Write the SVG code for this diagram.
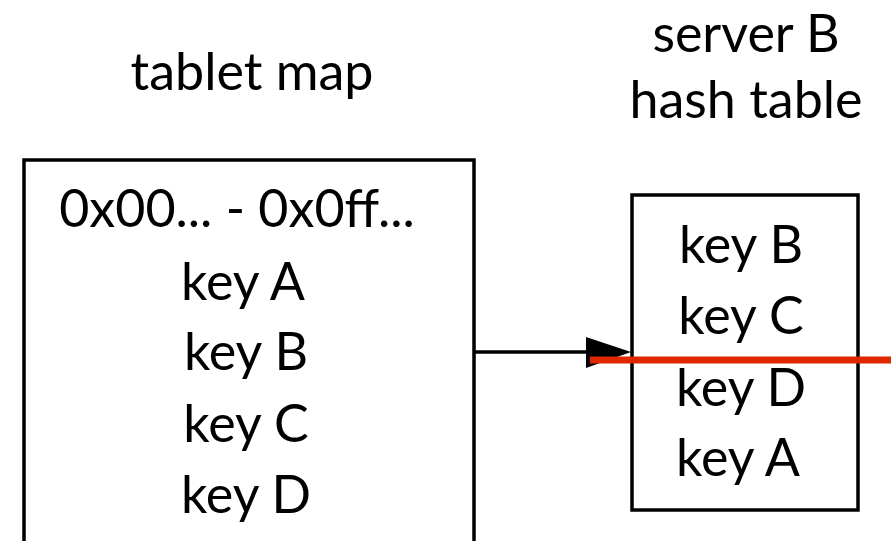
<svg xmlns="http://www.w3.org/2000/svg" width="891" height="541" viewBox="0 0 891 541">
  <style>
    .box { fill: #ffffff; stroke: #000000; stroke-width: 3.5; }
    .lbl { font-family: Lato, "Noto Sans", "Liberation Sans", sans-serif; font-size: 52px; fill: #000000; text-anchor: middle; }
    .conn { stroke: #000000; stroke-width: 3.5; fill: none; }
    .head { fill: #000000; stroke: none; }
    .cut { stroke: #e02800; stroke-width: 7; fill: none; }
  </style>
  <rect width="891" height="541" fill="#ffffff"/>

  <!-- titles -->
  <text class="lbl" x="252" y="90">tablet map</text>
  <text class="lbl" x="746" y="52">server B</text>
  <text class="lbl" x="746" y="118">hash table</text>

  <!-- tablet map node -->
  <g id="tablet-map">
    <rect class="box" x="24" y="160" width="450" height="400"/>
    <text class="lbl" x="237" y="227">0x00... - 0x0ff...</text>
    <text class="lbl" x="243" y="300">key A</text>
    <text class="lbl" x="246" y="370">key B</text>
    <text class="lbl" x="246" y="442">key C</text>
    <text class="lbl" x="246" y="513">key D</text>
  </g>

  <!-- server B hash table node -->
  <g id="hash-table">
    <rect class="box" x="632" y="195" width="226" height="315"/>
    <text class="lbl" x="741" y="263">key B</text>
    <text class="lbl" x="741" y="334">key C</text>
    <text class="lbl" x="741" y="406">key D</text>
    <text class="lbl" x="738" y="476">key A</text>
  </g>

  <!-- connectors -->
  <g id="connectors">
    <line class="conn" x1="474" y1="352" x2="600" y2="352"/>
    <polygon class="head" points="586,337 631,352 586,368"/>
    <line class="cut" x1="590" y1="360" x2="891" y2="360"/>
  </g>
</svg>
